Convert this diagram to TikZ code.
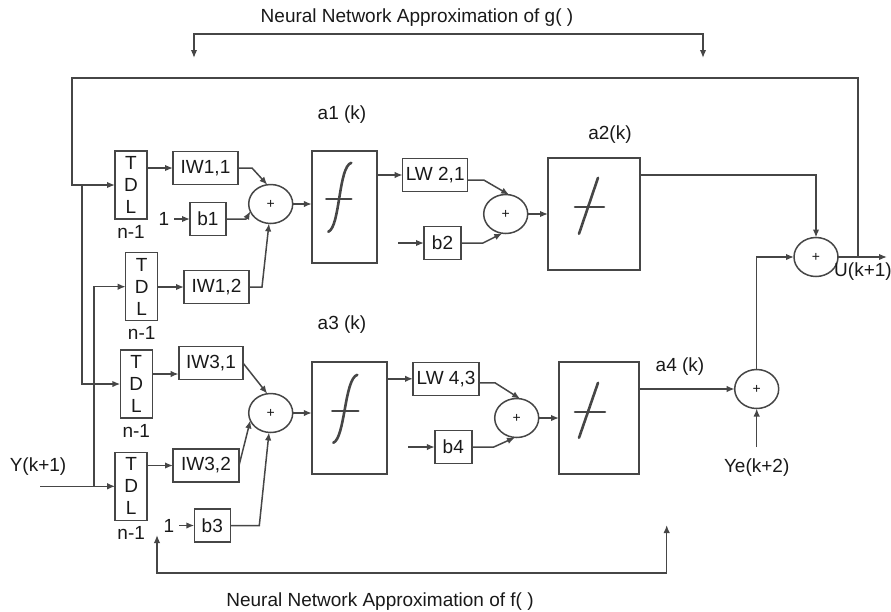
\documentclass[tikz,border=0pt]{standalone}
\usepackage{fontspec}
\setmainfont{Liberation Sans}
\usetikzlibrary{arrows.meta,shapes.geometric,positioning}
\definecolor{linegray}{RGB}{70,70,70}
\definecolor{textgray}{RGB}{25,25,25}

\begin{document}
\begin{tikzpicture}[x=1pt,y=-1pt,inner sep=0pt,outer sep=0pt,line width=1.5pt,
color=linegray,text=textgray,>={Latex[length=8pt,width=6.5pt]},
font=\fontsize{19}{22}\selectfont,
blk/.style={draw,rectangle,minimum height=33pt},
tdl/.style={draw,rectangle,minimum width=32pt,minimum height=68pt,align=center},
actblk/.style={draw,rectangle,minimum height=112pt},
sumnode/.style={draw,ellipse,minimum width=44pt,minimum height=39pt,font=\fontsize{14}{14}\selectfont},
curve/.style={line width=2.6pt,line cap=round}]

\useasboundingbox (0,0) rectangle (891,611);

% tapped delay lines
\draw (131,185) node[tdl] (tdlA) {T\\D\\L};
\draw (141.7,286.7) node[tdl] (tdlB) {T\\D\\L};
\draw (136.3,384) node[tdl] (tdlC) {T\\D\\L};
\draw (131.2,486.3) node[tdl] (tdlD) {T\\D\\L};
\node[below=6pt of tdlA] (nA) {n-1};
\node[below=6pt of tdlB] (nB) {n-1};
\node[below=6pt of tdlC] (nC) {n-1};
\node[below=6pt of tdlD] (nD) {n-1};

% weights and biases
\draw (205.5,168) node[blk,minimum width=65pt] (iw11) {IW1,1};
\draw (208,219) node[blk,minimum width=36pt] (b1) {b1};
\draw (216.5,287) node[blk,minimum width=65pt] (iw12) {IW1,2};
\draw (211,363) node[blk,minimum width=64pt] (iw31) {IW3,1};
\draw (206,465.5) node[blk,minimum width=66pt] (iw32) {IW3,2};
\draw (212.3,525.5) node[blk,minimum width=36pt] (b3) {b3};
\draw (435.2,175) node[blk,minimum width=65pt] (lw21) {LW 2,1};
\draw (442.5,243) node[blk,minimum width=37pt] (b2) {b2};
\draw (446,378.8) node[blk,minimum width=66pt] (lw43) {LW 4,3};
\draw (453.3,447) node[blk,minimum width=37pt] (b4) {b4};
\node (oneA) at (164,219) {1};
\node (oneB) at (169,525.5) {1};
\coordinate (b2in) at (398,243);
\coordinate (b4in) at (408,447);

% summing junctions
\draw (270.7,204) node[sumnode] (s1) {+};
\draw (505.7,214) node[sumnode] (s2) {+};
\draw (270.7,413) node[sumnode] (s3) {+};
\draw (516.7,418) node[sumnode] (s4) {+};
\draw (816,257) node[sumnode] (s5) {+};
\draw (756.7,389) node[sumnode] (s6) {+};

% transfer functions
\draw (344.3,206.8) node[actblk,minimum width=65pt] (act1) {};
\draw (594,213.8) node[actblk,minimum width=92pt] (act2) {};
\draw (349.3,417.8) node[actblk,minimum width=75pt] (act3) {};
\draw (599,417.8) node[actblk,minimum width=80pt] (act4) {};
\begin{scope}[shift={(act1.center)}]
\draw[curve] (-16,25) .. controls (-4,20) and (-6,-40) .. (7,-44);
\draw[curve] (-18,-8) -- (7,-8);
\end{scope}
\begin{scope}[shift={(act3.center)}]
\draw[curve] (-16,25) .. controls (-4,20) and (-5,-39) .. (8,-43);
\draw[curve] (-17,-7) -- (9,-7);
\end{scope}
\begin{scope}[shift={(act2.center)}]
\draw[curve] (-15,20) -- (4,-36);
\draw[curve] (-19,-7) -- (10,-7);
\end{scope}
\begin{scope}[shift={(act4.center)}]
\draw[curve] (-20,20) -- (-1,-35);
\draw[curve] (-24,-6) -- (6,-6);
\end{scope}

% labels
\node (gtitle) at (417,18) {Neural Network Approximation of g( )};
\node (ftitle) at (380,601.7) {Neural Network Approximation of f( )};
\node (aA) at (342,115) {a1 (k)};
\node (aB) at (610,135) {a2(k)};
\node (aC) at (342,325) {a3 (k)};
\node (aD) at (680,367) {a4 (k)};
\node (ulab) at (863,272) {U(k+1)};
\node (ylab) at (38,467) {Y(k+1)};
\node (yelab) at (756.7,468) {Ye(k+2)};
\coordinate (yein) at (756.7,447);

% signal flow
\draw[->] (tdlA.east |- iw11) -- (iw11.west);
\draw[->] (tdlB.east |- iw12) -- (iw12.west);
\draw[->] (tdlC.east) ++(0,-10) -- ++(26.3,0);
\draw[->] (tdlD.east |- iw32) -- (iw32.west);
\draw[->,shorten <=5pt] (oneA) -- (b1);
\draw[->,shorten <=5pt] (oneB) -- (b3);
\draw[->] (iw11.east) -- ++(14,0) -- (s1.100);
\draw[->] (b1.east) -- ++(20,0) -- (s1.200);
\draw[->] (iw12.east) -- ++(13,0) -- (s1.-95);
\draw[->] (iw31.east) -- (s3.100);
\draw[->] (iw32.east) -- (s3.200);
\draw[->] (b3.east) -- ++(29,0) -- (s3.-95);
\draw[->] (s1.east) -- (s1.east -| act1.west);
\draw[->] (s3.east) -- (s3.east -| act3.west);
\draw[->] (act1.east |- lw21) -- (lw21.west);
\draw[->] (act3.east |- lw43) -- (lw43.west);
\draw[->] (b2in) -- (b2);
\draw[->] (b4in) -- (b4);
\draw[->] (lw21.east) ++(0,5) -- ++(16,0) -- (s2.80);
\draw[->] (b2.east) -- ++(22,0) -- (s2.-100);
\draw[->] (lw43.east) ++(0,4) -- ++(16,0) -- (s4.80);
\draw[->] (b4.east) -- ++(22,0) -- (s4.-95);
\draw[->] (s2.east) -- (s2.east -| act2.west);
\draw[->] (s4.east) -- (s4.east -| act4.west);
\draw[->] (act2.east) ++(0,-39) -| (s5.north);
\draw[->] (act4.east |- s6.west) -- (s6.west);
\draw[->] (yein) -- (s6.south);
\draw[->] (s6.north) |- (s5.west);

% output and feedback
\coordinate (uout) at (887,257);
\coordinate (fbsplit) at (858,257);
\coordinate (fbtop) at (858,78);
\coordinate (fbleft) at (72,78);
\coordinate (fbtap) at (82,185);
\draw[->] (s5.east) -- (uout);
\draw[->] (fbsplit) -- (fbtop) -- (fbleft) |- (tdlA.west);
\draw[->] (fbtap) |- (tdlC.west);
\coordinate (yin) at (40,486.3);
\coordinate (ytap) at (94,486.3);
\draw[->] (yin) -- (tdlD.west);
\draw[->] (ytap) |- (tdlB.west);

% approximation brackets
\coordinate (gl) at (194,58);
\coordinate (gr) at (703,58);
\coordinate (fl) at (157,535);
\coordinate (fr) at (666.7,525);
\draw[<->] (gl) -- ++(0,-24) -| (gr);
\draw[<->] (fl) -- ++(0,38) -| (fr);
\end{tikzpicture}
\end{document}
